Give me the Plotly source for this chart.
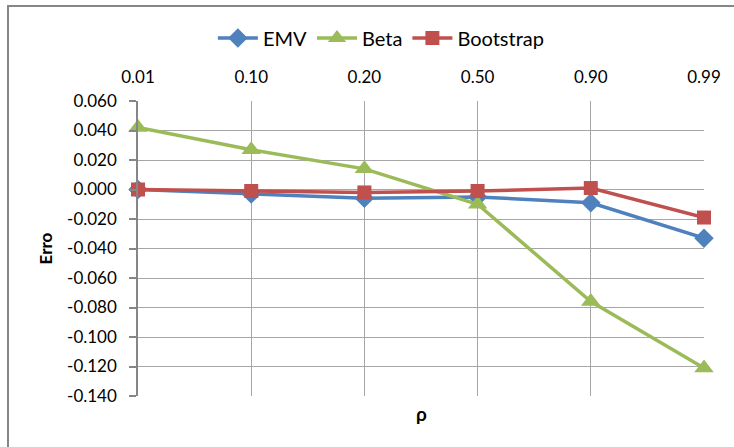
import plotly.graph_objects as go

# Correlation levels (categories) and estimation error per method
rho = ["0.01", "0.10", "0.20", "0.50", "0.90", "0.99"]
emv = [0.000, -0.003, -0.006, -0.005, -0.009, -0.033]
beta = [0.042, 0.027, 0.014, -0.010, -0.076, -0.121]
bootstrap = [0.000, -0.001, -0.002, -0.001, 0.001, -0.019]

y_ticks = [-0.14, -0.12, -0.10, -0.08, -0.06, -0.04, -0.02, 0.0, 0.02, 0.04, 0.06]
y_tick_text = ["-0.140", "-0.120", "-0.100", "-0.080", "-0.060", "-0.040",
               "-0.020", "0.000", "0.020", "0.040", "0.060"]

FONT = "Lato, Calibri, sans-serif"
GRID = "#A6A6A6"
AXIS = "#868686"

fig = go.Figure()
fig.add_trace(go.Scatter(
    x=rho, y=emv, name="EMV", mode="lines+markers",
    line=dict(color="#4F81BD", width=3.5),
    marker=dict(symbol="diamond", size=15, color="#4F81BD"),
    cliponaxis=False,
))
fig.add_trace(go.Scatter(
    x=rho, y=beta, name="Beta", mode="lines+markers",
    line=dict(color="#9BBB59", width=3.5),
    marker=dict(symbol="triangle-up", size=17, color="#9BBB59"),
    cliponaxis=False,
))
fig.add_trace(go.Scatter(
    x=rho, y=bootstrap, name="Bootstrap", mode="lines+markers",
    line=dict(color="#C0504D", width=3.5),
    marker=dict(symbol="square", size=14, color="#C0504D"),
    cliponaxis=False,
))

fig.update_layout(
    width=734, height=447,
    margin=dict(l=138, r=30, t=101, b=51),
    paper_bgcolor="white", plot_bgcolor="white",
    font=dict(family=FONT, size=17, color="#000000"),
    showlegend=True,
    legend=dict(
        orientation="h", x=0.43, xanchor="center", y=1.2136, yanchor="middle",
        font=dict(family=FONT, size=20), bgcolor="rgba(0,0,0,0)",
        itemwidth=40, tracegroupgap=0,
    ),
    xaxis=dict(
        type="category", categoryorder="array", categoryarray=rho,
        range=[0, len(rho) - 1], side="top",
        showgrid=True, gridcolor=GRID, gridwidth=1,
        showline=False, zeroline=False, ticks="",
        ticklabelstandoff=14,
        tickfont=dict(family=FONT, size=17),
    ),
    yaxis=dict(
        range=[-0.14, 0.06], tickvals=y_ticks, ticktext=y_tick_text,
        showgrid=True, gridcolor=GRID, gridwidth=1,
        showline=True, linecolor=AXIS, linewidth=1.5, zeroline=False,
        ticks="outside", ticklen=7, tickcolor=AXIS, tickwidth=1.5,
        ticklabelstandoff=9,
        tickfont=dict(family=FONT, size=17),
        title=dict(text="<b>Erro</b>", standoff=10,
                   font=dict(family=FONT, size=17)),
    ),
    annotations=[dict(
        text="<b>ρ</b>", xref="paper", yref="paper", x=0.5, y=-0.06,
        xanchor="center", yanchor="middle", showarrow=False,
        font=dict(family=FONT, size=19),
    )],
    shapes=[dict(
        type="rect", xref="paper", yref="paper",
        x0=-0.2297, x1=1.3, y0=-0.5, y1=1.322,
        line=dict(color=AXIS, width=2), layer="below",
    )],
)

fig.write_html("out.html")
